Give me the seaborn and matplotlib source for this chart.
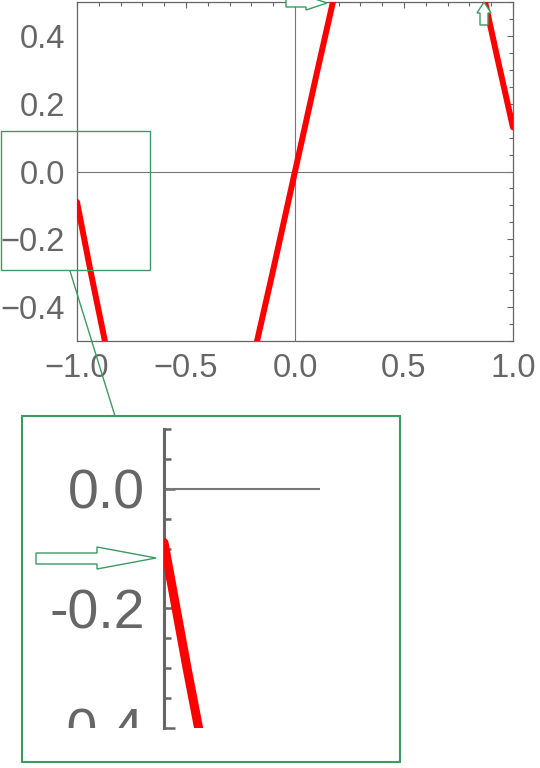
import numpy as np
import pandas as pd
import seaborn as sns
import matplotlib
matplotlib.use("Agg")
import matplotlib.pyplot as plt
from matplotlib.ticker import MultipleLocator, FuncFormatter
from matplotlib.patches import Rectangle, Polygon
from matplotlib.lines import Line2D
from matplotlib.transforms import Bbox, TransformedBbox

# ---- data ----
seg1_x = [-1.0, -0.936, -0.872]
seg1_y = [-0.09, -0.30, -0.50]
seg2_x = [-0.174, -0.10, 0.0, 0.10, 0.174]
seg2_y = [-0.50, -0.29, 0.0, 0.29, 0.50]
seg3_x = [0.872, 0.93, 1.0]
seg3_y = [0.50, 0.33, 0.13]

main_xlim = (-1.0, 1.0)
main_ylim = (-0.5, 0.5)
inset_xlim = (-1.0, -0.567)
inset_ylim = (-0.4, 0.1)

df = pd.concat([
    pd.DataFrame({"x": seg1_x, "y": seg1_y, "seg": 1}),
    pd.DataFrame({"x": seg2_x, "y": seg2_y, "seg": 2}),
    pd.DataFrame({"x": seg3_x, "y": seg3_y, "seg": 3}),
], ignore_index=True)

sns.set_theme(style="white")
plt.rcParams["font.family"] = ["Liberation Sans", "DejaVu Sans"]

W, H = 540, 768
fig = plt.figure(figsize=(W / 100, H / 100), dpi=100)

def fx(px):
    return px / W

def fy(py):
    return 1 - py / H

GRAY = "#666666"
GREEN = "#3c9a64"
RED = "#ff0000"

# ---- main axes ----
ax = fig.add_axes([fx(77), fy(341), fx(513) - fx(77), fy(2) - fy(341)])
ax.axhline(0, color="#777777", lw=0.8, zorder=1)
ax.axvline(0, color="#777777", lw=0.8, zorder=1)
sns.lineplot(data=df, x="x", y="y", units="seg", estimator=None, sort=False,
             color=RED, lw=4.3, ax=ax, zorder=3)
ax.set_xlim(*main_xlim)
ax.set_ylim(*main_ylim)
ax.set_xlabel("")
ax.set_ylabel("")
ax.xaxis.set_major_locator(MultipleLocator(0.5))
ax.xaxis.set_minor_locator(MultipleLocator(0.1))
ax.yaxis.set_major_locator(MultipleLocator(0.2))
ax.yaxis.set_minor_locator(MultipleLocator(0.05))
fmt_main = FuncFormatter(lambda v, _: f"{v + 0.0:.1f}".replace("-", "\u2212") if abs(v) > 1e-9 else "0.0")
ax.xaxis.set_major_formatter(fmt_main)
ax.yaxis.set_major_formatter(fmt_main)
ax.tick_params(which="both", direction="in", top=True, right=True,
               color=GRAY, width=0.8, labelcolor=GRAY, labelsize=23.5, pad=8.5)
ax.tick_params(which="major", length=4.3)
ax.tick_params(which="minor", length=2.8)
for s in ax.spines.values():
    s.set_color(GRAY)
    s.set_linewidth(0.9)

# ---- inset axes ----
ax_in = fig.add_axes([fx(164), fy(728), fx(320) - fx(164), fy(429) - fy(728)])
ax_in.axhline(0, color="#777777", lw=1.5, zorder=1)
sns.lineplot(data=df, x="x", y="y", units="seg", estimator=None, sort=False,
             color=RED, lw=6.5, ax=ax_in, zorder=3)
ax_in.set_xlim(*inset_xlim)
ax_in.set_ylim(*inset_ylim)
ax_in.set_xlabel("")
ax_in.set_ylabel("")
ax_in.set_facecolor("none")
ax_in.yaxis.set_major_locator(MultipleLocator(0.2))
ax_in.yaxis.set_minor_locator(MultipleLocator(0.05))
ax_in.yaxis.set_major_formatter(FuncFormatter(lambda v, _: f"{v:.1f}" if abs(v) > 1e-9 else "0.0"))
ax_in.set_xticks([])
ax_in.tick_params(axis="y", which="both", direction="in", left=True, right=False,
                  color=GRAY, width=1.8, labelcolor=GRAY, labelsize=40, pad=14)
ax_in.tick_params(axis="y", which="major", length=8)
ax_in.tick_params(axis="y", which="minor", length=5)
for k in ["top", "right", "bottom"]:
    ax_in.spines[k].set_visible(False)
ax_in.spines["left"].set_color(GRAY)
ax_in.spines["left"].set_linewidth(2.2)

# ---- magnifier decorations (figure pixel coordinates) ----
def px_poly(pts):
    return [(fx(x), fy(y)) for x, y in pts]

fig.patches.append(Rectangle((fx(0.5), fy(270)), fx(150) - fx(0.5), fy(131) - fy(270),
                             transform=fig.transFigure, fill=False, ec=GREEN, lw=1.0, zorder=5))
fig.patches.append(Rectangle((fx(22), fy(762)), fx(400) - fx(22), fy(416) - fy(762),
                             transform=fig.transFigure, fill=False, ec=GREEN, lw=1.5, zorder=5))
fig.lines.append(Line2D([fx(70), fx(115)], [fy(271), fy(416)], transform=fig.transFigure,
                        color=GREEN, lw=1.0, zorder=5))

arrow_top = [(286, -1), (306, -1), (306, -4), (327, 3), (306, 10), (306, 7), (286, 7)]
arrow_up = [(480, 25), (480, 13), (477, 13), (484, 2), (491, 13), (488, 13), (488, 25)]
arrow_in = [(36, 553), (97, 553), (97, 547), (156, 558), (97, 569), (97, 564), (36, 564)]
for pts in (arrow_top, arrow_up, arrow_in):
    fig.patches.append(Polygon(px_poly(pts), closed=True, transform=fig.transFigure,
                               fc="white", ec=GREEN, lw=1.0, zorder=6))

# clip inset tick labels at the magnifier's lower edge
fig.canvas.draw()
clip = TransformedBbox(Bbox.from_extents(0, fy(728), 1, 1), fig.transFigure)
for t in ax_in.yaxis.get_major_ticks():
    t.label1.set_clip_on(True)
    t.label1.set_clip_box(clip)

fig.savefig("out.png", dpi=100)
